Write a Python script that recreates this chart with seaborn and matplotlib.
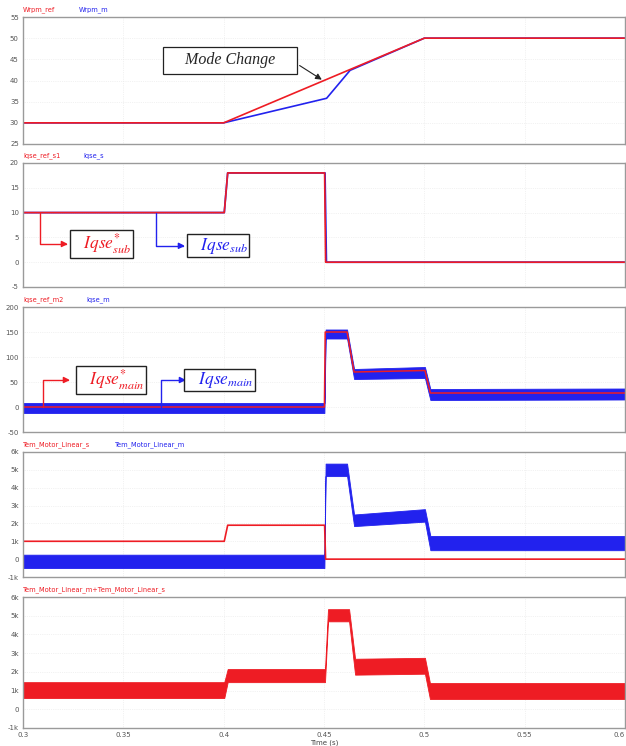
import numpy as np
import pandas as pd
import seaborn as sns
import matplotlib.pyplot as plt

RED = '#ee1c24'
BLUE = '#2222ee'

# panel 1: speed
t_wref = [0.3, 0.4, 0.5, 0.6]
wrpm_ref = [30, 30, 50, 50]
t_wm = [0.3, 0.4, 0.4513, 0.463, 0.5, 0.6]
wrpm_m = [30, 30, 35.8, 42.4, 50, 50]

# panel 2: sub motor current
t_iqs_ref = [0.3, 0.4003, 0.402, 0.4503, 0.4508, 0.6]
iqse_ref_s1 = [10, 10, 18, 18, 0, 0]
t_iqs = [0.3, 0.4003, 0.402, 0.4505, 0.4512, 0.6]
iqse_s = [10, 10, 18, 18, 0, 0]

# panel 3: main motor current (ref line + noisy band of measured)
t_iqm_ref = [0.3, 0.4502, 0.4506, 0.4615, 0.4650, 0.5003, 0.5030, 0.6]
iqse_ref_m2 = [0, 0, 150, 150, 70, 73, 28, 28]
t_band = [0.3, 0.4502, 0.4508, 0.4615, 0.4650, 0.5003, 0.5030, 0.6]
iqse_m_lo = [-12, -12, 137, 137, 56, 58, 14, 15]
iqse_m_hi = [8, 8, 155, 155, 76, 80, 36, 37]

# panel 4: torques
t_tem_s = [0.3, 0.4003, 0.402, 0.4503, 0.4508, 0.6]
tem_s = [1000, 1000, 1900, 1900, 0, 0]
tem_m_lo = [-500, -500, 4650, 4650, 1850, 2100, 500, 500]
tem_m_hi = [250, 250, 5350, 5350, 2500, 2800, 1300, 1300]

# panel 5: total torque band
t_sum = [0.3, 0.4003, 0.402, 0.4505, 0.452, 0.4625, 0.4655, 0.5003, 0.5028, 0.6]
tem_sum_lo = [600, 600, 1450, 1450, 4700, 4700, 1850, 1900, 550, 550]
tem_sum_hi = [1450, 1450, 2150, 2150, 5350, 5350, 2700, 2750, 1400, 1400]

xticks = [0.3, 0.35, 0.4, 0.45, 0.5, 0.55, 0.6]
xticklabels = ['0.3', '0.35', '0.4', '0.45', '0.5', '0.55', '0.6']
k_ticks = [-1000, 0, 1000, 2000, 3000, 4000, 5000, 6000]
k_labels = ['-1k', '0', '1k', '2k', '3k', '4k', '5k', '6k']

sns.set_style('white')
plt.rcParams['font.family'] = ['DejaVu Sans']
plt.rcParams['mathtext.fontset'] = 'stix'

fig = plt.figure(figsize=(6.26, 7.46), dpi=100)
L, W = 23 / 626, 602 / 626
boxes = [(17, 144), (163, 287), (307, 432), (452, 577), (597, 728)]
axes = []
for top, bot in boxes:
    ax = fig.add_axes([L, 1 - bot / 746, W, (bot - top) / 746])
    axes.append(ax)

def style(ax, yticks, ylabels, ylim, names, name_x):
    ax.set_xlim(0.3, 0.6)
    ax.set_ylim(*ylim)
    ax.set_xticks(xticks)
    ax.set_yticks(yticks)
    ax.set_yticklabels(ylabels)
    ax.set_xticklabels([])
    ax.tick_params(labelsize=5, colors='#555555', length=1.5, pad=1.5)
    ax.grid(True, color='#e6e6e6', lw=0.5, ls=':')
    for s in ax.spines.values():
        s.set_color('#9a9a9a')
        s.set_linewidth(1.0)
    ax.set_xlabel('')
    ax.set_ylabel('')
    for (txt, col), x in zip(names, name_x):
        ax.text(x, 1.03, txt, transform=ax.transAxes, color=col, fontsize=4.8,
                va='bottom', ha='left')

def elbow(ax, start, tip, color):
    ax.annotate('', xy=tip, xytext=start,
                arrowprops=dict(arrowstyle='-|>', color=color, lw=1.0,
                                shrinkA=0, shrinkB=0, mutation_scale=9,
                                connectionstyle='angle,angleA=90,angleB=0,rad=0'))

def tagbox(ax, pos, label, color):
    ax.text(pos[0], pos[1], label, color=color, fontsize=12.5, ha='center', va='center',
            bbox=dict(boxstyle='square,pad=0.08', fc='white', ec='#222222', lw=1.0))

# panel 1
ax = axes[0]
sns.lineplot(x=t_wm, y=wrpm_m, ax=ax, color=BLUE, lw=1.2, errorbar=None)
sns.lineplot(x=t_wref, y=wrpm_ref, ax=ax, color=RED, lw=1.2, errorbar=None)
style(ax, [25, 30, 35, 40, 45, 50, 55], ['25', '30', '35', '40', '45', '50', '55'],
      (25, 55), [('Wrpm_ref', RED), ('Wrpm_m', BLUE)], [0, 0.092])
ax.annotate('    Mode Change    ', xy=(0.4489, 40.2), xytext=(0.4032, 44.8),
            ha='center', va='center', fontsize=11.5, style='italic',
            family='Liberation Serif',
            bbox=dict(boxstyle='square,pad=0.35', fc='white', ec='#222222', lw=0.9),
            arrowprops=dict(arrowstyle='-|>', color='#222222', lw=0.8,
                            relpos=(1, 0.5), mutation_scale=9, shrinkB=0))

# panel 2
ax = axes[1]
sns.lineplot(x=t_iqs, y=iqse_s, ax=ax, color=BLUE, lw=1.3, errorbar=None)
sns.lineplot(x=t_iqs_ref, y=iqse_ref_s1, ax=ax, color=RED, lw=1.2, errorbar=None)
style(ax, [-5, 0, 5, 10, 15, 20], ['-5', '0', '5', '10', '15', '20'], (-5, 20),
      [('Iqse_ref_s1', RED), ('Iqse_s', BLUE)], [0, 0.1])
elbow(ax, (0.30847, 10), (0.3224, 3.67), RED)
tagbox(ax, (0.3391, 3.67), r'$\ \ \ Iqse^{*}_{sub}\ \ \ $', RED)
elbow(ax, (0.3663, 10), (0.3807, 3.3), BLUE)
tagbox(ax, (0.3972, 3.3), r'$\ \ \ Iqse_{sub}\ \ \ $', BLUE)

# panel 3
ax = axes[2]
ax.fill_between(t_band, iqse_m_lo, iqse_m_hi, color=BLUE, lw=0.6)
sns.lineplot(x=t_iqm_ref, y=iqse_ref_m2, ax=ax, color=RED, lw=1.1, errorbar=None)
style(ax, [-50, 0, 50, 100, 150, 200], ['-50', '0', '50', '100', '150', '200'],
      (-50, 200), [('Iqse_ref_m2', RED), ('Iqse_m', BLUE)], [0, 0.105])
elbow(ax, (0.30997, 0), (0.3234, 54), RED)
tagbox(ax, (0.3439, 54), r'$\ \ \ Iqse^{*}_{main}\ \ \ $', RED)
elbow(ax, (0.3688, 0), (0.3812, 54), BLUE)
tagbox(ax, (0.3979, 54), r'$\ \ \ Iqse_{main}\ \ \ $', BLUE)

# panel 4
ax = axes[3]
ax.fill_between(t_band, tem_m_lo, tem_m_hi, color=BLUE, lw=0.6)
sns.lineplot(x=t_tem_s, y=tem_s, ax=ax, color=RED, lw=1.2, errorbar=None)
style(ax, k_ticks, k_labels, (-1000, 6000),
      [('Tem_Motor_Linear_s', RED), ('Tem_Motor_Linear_m', BLUE)], [0, 0.153])

# panel 5
ax = axes[4]
ax.fill_between(t_sum, tem_sum_lo, tem_sum_hi, color=RED, lw=0.6)
style(ax, k_ticks, k_labels, (-1000, 6000),
      [('Tem_Motor_Linear_m+Tem_Motor_Linear_s', RED)], [0])
ax.set_xticklabels(xticklabels)
ax.get_xticklabels()[-1].set_ha('right')
ax.set_xlabel('Time (s)', fontsize=5, color='#444444', labelpad=1)

fig.savefig('out.png', dpi=100)
